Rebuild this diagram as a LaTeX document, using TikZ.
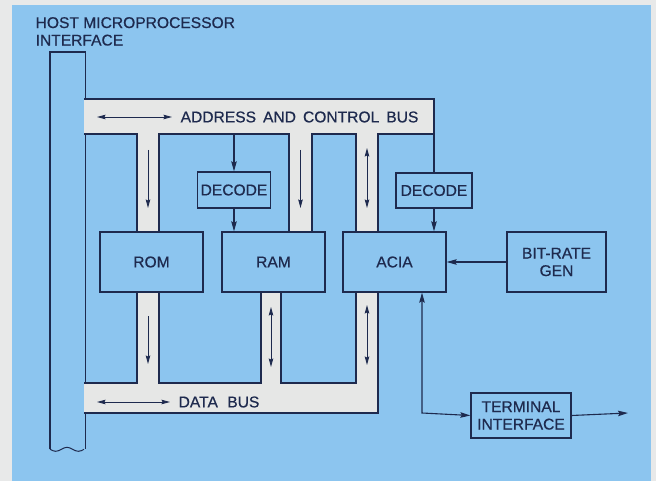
\documentclass[tikz,border=0pt]{standalone}
\usepackage{fontspec}
\setmainfont{Liberation Sans}[FakeBold=0.6]
\usetikzlibrary{arrows.meta}
\definecolor{bg}{HTML}{8CC5EF}
\definecolor{margin}{HTML}{E8E9E9}
\definecolor{busfill}{HTML}{E6E7E6}
\definecolor{ink}{HTML}{1E2A4E}
\begin{document}
\begin{tikzpicture}[x=1pt,y=-1pt, line width=1.3pt, draw=ink,
  txt/.style={font=\fontsize{15.6}{17.5}\selectfont, text=ink, inner sep=0pt},
  blk/.style={txt, draw=ink, rectangle, align=center},
  arr/.style={-{Stealth[length=10pt,width=5.5pt,inset=1.5pt]}, line width=1.1pt, draw=ink},
  barr/.style={{Stealth[length=10pt,width=5.5pt,inset=1.5pt]}-{Stealth[length=10pt,width=5.5pt,inset=1.5pt]}, line width=1.1pt, draw=ink},
  busarr/.style={{Stealth[length=8.5pt,width=4.5pt,inset=1pt]}-{Stealth[length=8.5pt,width=4.5pt,inset=1pt]}, line width=0.9pt, draw=ink},
  busdn/.style={-{Stealth[length=8.5pt,width=4.5pt,inset=1pt]}, line width=0.9pt, draw=ink}]
\fill[margin] (0,0) rectangle (656,481);
\fill[bg] (12,5) rectangle (651,481);
\useasboundingbox (0,0) rectangle (656,481);

% host interface bar
\node[minimum width=34pt, minimum height=396pt, inner sep=0pt, anchor=north west] (bar) at (50,52) {};
\draw (bar.south west) -- (bar.north west) -- (bar.north east) -- (bar.south east);
\draw[line width=1pt] (bar.south west) sin ++(5.67,2) cos ++(5.67,-2) sin ++(5.67,-2) cos ++(5.67,2) sin ++(5.67,2) cos ++(5.67,-2);
\node[txt, anchor=north west, align=left] (host) at (35,16.5) {HOST MICROPROCESSOR\\INTERFACE};

% boxes
\node[blk, minimum width=103pt, minimum height=60pt] (rom) at (151.5,262) {ROM};
\node[blk, minimum width=103pt, minimum height=60pt] (ram) at (273.5,262) {RAM};
\node[blk, minimum width=103pt, minimum height=60pt] (acia) at (394.5,262) {ACIA};
\node[blk, minimum width=99pt, minimum height=60pt] (brg) at (556.5,262) {BIT-RATE\\GEN};
\node[blk, minimum width=73pt, minimum height=36pt] (dec1) at (234,190) {DECODE};
\node[blk, minimum width=76pt, minimum height=35pt] (dec2) at (434,190.5) {DECODE};
\node[blk, minimum width=100pt, minimum height=45pt] (term) at (521,415.5) {TERMINAL\\INTERFACE};

% address and control bus
\fill[busfill] (84,99) -- (434,99) -- (434,134) -- (378,134) -- (378,232) -- (356,232) -- (356,134)
  -- (312,134) -- (312,232) -- (289,232) -- (289,134) -- (159,134) -- (159,232) -- (137,232)
  -- (137,134) -- (84,134) -- cycle;
\draw (84,99) -- (434,99) -- (434,134) -- (378,134) -- (378,232);
\draw (356,232) -- (356,134) -- (312,134) -- (312,232);
\draw (289,232) -- (289,134) -- (159,134) -- (159,232);
\draw (137,232) -- (137,134) -- (84,134);
\node[txt, anchor=west] (abus) at (180,117) {ADDRESS\hspace{0.45em}AND\hspace{0.45em}CONTROL\hspace{0.45em}BUS};

% data bus
\fill[busfill] (84,383) -- (137,383) -- (137,292) -- (159,292) -- (159,383) -- (261,383) -- (261,292)
  -- (281,292) -- (281,383) -- (356,383) -- (356,292) -- (378,292) -- (378,413) -- (84,413) -- cycle;
\draw (84,383) -- (137,383) -- (137,292);
\draw (159,292) -- (159,383) -- (261,383) -- (261,292);
\draw (281,292) -- (281,383) -- (356,383) -- (356,292);
\draw (378,292) -- (378,413) -- (84,413);
\node[txt, anchor=west] (dbus) at (178,402) {DATA\hspace{0.6em}BUS};

% redraw box outlines on top
\foreach \b in {rom,ram,acia} \draw (\b.north west) rectangle (\b.south east);

% bus arrows
\coordinate (aa1) at (97,117); \coordinate (aa2) at (172,117);
\draw[busarr] (aa1) -- (aa2);
\coordinate (da1) at (97,402); \coordinate (da2) at (170,402);
\draw[busarr] (da1) -- (da2);
\coordinate (r1) at (148,150); \coordinate (r2) at (148,208);
\draw[busdn] (r1) -- (r2);
\coordinate (m1) at (300.5,150); \coordinate (m2) at (300.5,208);
\draw[busdn] (m1) -- (m2);
\coordinate (c1) at (367,148); \coordinate (c2) at (367,208);
\draw[busarr] (c1) -- (c2);
\coordinate (r3) at (148,316); \coordinate (r4) at (148,364);
\draw[busdn] (r3) -- (r4);
\coordinate (m3) at (271,307); \coordinate (m4) at (271,367);
\draw[busarr] (m3) -- (m4);
\coordinate (c3) at (367,305); \coordinate (c4) at (367,365);
\draw[busarr] (c3) -- (c4);

% decode connections
\coordinate (d1t) at (234,134);
\draw[arr] (d1t) -- (dec1.north);
\draw[arr] (dec1.south) -- (dec1.south |- ram.north);
\coordinate (d2t) at (434,134);
\draw (d2t) -- (dec2.north);
\draw[arr] (dec2.south) -- (dec2.south |- acia.north);

% bit-rate generator
\draw[arr] (brg.west) -- (acia.east);

% terminal interface
\coordinate (tc) at (422,413);
\draw[barr] (tc |- acia.south) -- (tc) -- (term.west);
\coordinate (out) at (628,413);
\draw[arr] (term.east) -- (out);
\end{tikzpicture}
\end{document}
